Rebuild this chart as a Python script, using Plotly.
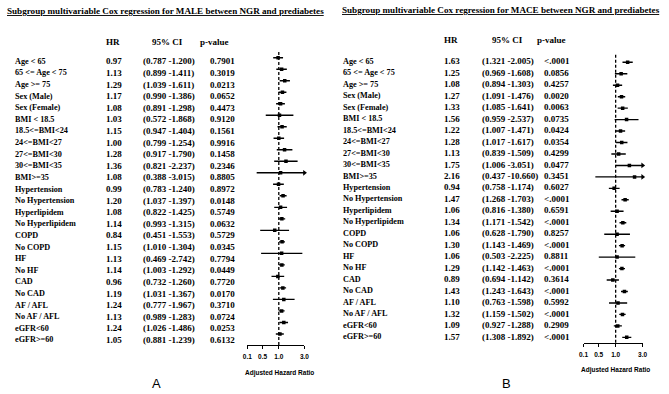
import math
import plotly.graph_objects as go

W, H = 669, 394

# ---------------- data ----------------
SUBGROUPS = ["Age < 65", "65 <= Age < 75", "Age >= 75", "Sex (Male)", "Sex (Female)",
             "BMI < 18.5", "18.5<=BMI<24", "24<=BMI<27", "27<=BMI<30", "30<=BMI<35",
             "BMI>=35", "Hypertension", "No Hypertension", "Hyperlipidem", "No Hyperlipidem",
             "COPD", "No COPD", "HF", "No HF", "CAD", "No CAD", "AF / AFL", "No AF / AFL",
             "eGFR<60", "eGFR>=60"]

male_hr = [0.97, 1.13, 1.29, 1.17, 1.08, 1.03, 1.15, 1.00, 1.28, 1.36, 1.08, 0.99, 1.20,
           1.08, 1.14, 0.84, 1.15, 1.13, 1.14, 0.96, 1.19, 1.24, 1.13, 1.24, 1.05]
male_lo = [0.787, 0.899, 1.039, 0.990, 0.891, 0.572, 0.947, 0.799, 0.917, 0.821, 0.388, 0.783,
           1.037, 0.822, 0.993, 0.451, 1.010, 0.469, 1.003, 0.732, 1.031, 0.777, 0.989, 1.026, 0.881]
male_hi = [1.200, 1.411, 1.611, 1.386, 1.298, 1.868, 1.404, 1.254, 1.790, 2.237, 3.015, 1.240,
           1.397, 1.425, 1.315, 1.553, 1.304, 2.742, 1.292, 1.260, 1.367, 1.967, 1.283, 1.486, 1.239]
male_p = ["0.7901", "0.3019", "0.0213", "0.0652", "0.4473", "0.9120", "0.1561", "0.9916",
          "0.1458", "0.2346", "0.8805", "0.8972", "0.0148", "0.5749", "0.0632", "0.5729",
          "0.0345", "0.7794", "0.0449", "0.7720", "0.0170", "0.3710", "0.0724", "0.0253", "0.6132"]

mace_hr = [1.63, 1.25, 1.08, 1.27, 1.33, 1.56, 1.22, 1.28, 1.13, 1.75, 2.16, 0.94, 1.47,
           1.06, 1.34, 1.06, 1.30, 1.06, 1.29, 0.89, 1.43, 1.10, 1.32, 1.09, 1.57]
mace_lo = [1.321, 0.969, 0.894, 1.091, 1.085, 0.959, 1.007, 1.017, 0.839, 1.006, 0.437, 0.758,
           1.268, 0.816, 1.171, 0.628, 1.143, 0.503, 1.142, 0.694, 1.243, 0.763, 1.159, 0.927, 1.308]
mace_hi = [2.005, 1.608, 1.303, 1.476, 1.641, 2.537, 1.471, 1.617, 1.509, 3.051, 10.660, 1.174,
           1.703, 1.380, 1.542, 1.790, 1.469, 2.225, 1.463, 1.142, 1.643, 1.598, 1.502, 1.288, 1.892]
mace_p = ["<.0001", "0.0856", "0.4257", "0.0020", "0.0063", "0.0735", "0.0424", "0.0354",
          "0.4299", "0.0477", "0.3451", "0.6027", "<.0001", "0.6591", "<.0001", "0.8257",
          "<.0001", "0.8811", "<.0001", "0.3614", "<.0001", "0.5992", "<.0001", "0.2909", "<.0001"]

TICK_LABELS = ["0.1", "0.5", "1.0", "3.0"]
TICK_VALUES_INNER = [0.5, 1.0, 3.0]
REF_VALUE = 1.0

TITLES = ["Subgroup multivariable Cox regression for MALE between NGR and prediabetes",
          "Subgroup multivariable Cox regression for MACE between NGR and prediabetes"]
HEADERS = ["HR", "95% CI", "p-value"]
AXIS_TITLE = "Adjusted Hazard Ratio"
PANEL_LETTERS = ["A", "B"]


def esc(s):
    return s.replace("&", "&amp;").replace("<", "&lt;").replace(">", "&gt;")


def px(x):
    return x / W


def py(y):
    return 1 - y / H


SERIF = "Liberation Serif"
SANS = "Liberation Sans"

panels = [
    dict(hr=male_hr, lo=male_lo, hi=male_hi, p=male_p, title=TITLES[0], letter=PANEL_LETTERS[0],
         xa="x", ya="y", xt="x3", yt="y3",
         fx0=246, fx1=304, xmin=0.26, xmax=3.0,
         fy_top=50, fy_bot=345, row0=57.7, dy=11.51,
         trow0=61.3, tdy=11.61,
         col_label=8, col_hr=100, col_ci=138, col_p=206,
         h_hr=101, h_ci=165, h_p=213, h_row=-1.69,
         title_x=163.3, title_y=10.7,
         axt_x=278.3, axt_y=372.7, let_x=153.3, let_y=383.3),
    dict(hr=mace_hr, lo=mace_lo, hi=mace_hi, p=mace_p, title=TITLES[1], letter=PANEL_LETTERS[1],
         xa="x2", ya="y2", xt="x4", yt="y4",
         fx0=587.3, fx1=647.3, xmin=0.27, xmax=3.0,
         fy_top=53, fy_bot=342.7, row0=62.3, dy=11.46,
         trow0=61.3, tdy=11.47,
         col_label=341.5, col_hr=443.5, col_ci=482, col_p=545.5,
         h_hr=443.5, h_ci=509.7, h_p=554.5, h_row=-1.86,
         title_x=503.5, title_y=10,
         axt_x=619.5, axt_y=370, let_x=509.3, let_y=383.3),
]

fig = go.Figure()
annotations = []
shapes = []
layout_axes = {}

n = len(SUBGROUPS)
rows = list(range(n))

for k, P in enumerate(panels):
    # CI lines
    cx, cy = [], []
    for r in rows:
        cx += [P["lo"][r], P["hi"][r], None]
        cy += [r, r, None]
    fig.add_trace(go.Scatter(x=cx, y=cy, mode="lines", xaxis=P["xa"], yaxis=P["ya"],
                             line=dict(color="black", width=1.4), showlegend=False,
                             hoverinfo="skip"))
    # HR markers
    fig.add_trace(go.Scatter(x=P["hr"], y=rows, mode="markers", xaxis=P["xa"], yaxis=P["ya"],
                             marker=dict(symbol="square", size=3.5, color="black"),
                             showlegend=False))
    # arrows for CIs beyond axis
    ar = [r for r in rows if P["hi"][r] > P["xmax"]]
    fig.add_trace(go.Scatter(x=[P["xmax"]] * len(ar), y=ar, mode="markers",
                             xaxis=P["xa"], yaxis=P["ya"], cliponaxis=False,
                             marker=dict(symbol="triangle-right", size=5, color="black"),
                             showlegend=False))
    # invisible trace for text axes
    fig.add_trace(go.Scatter(x=[None], y=[None], xaxis=P["xt"], yaxis=P["yt"],
                             showlegend=False))

    # reference line
    shapes.append(dict(type="line", xref=P["xa"], yref=P["ya"] + " domain",
                       x0=REF_VALUE, x1=REF_VALUE, y0=0, y1=1,
                       line=dict(color="black", width=1.3, dash="3px,2px")))

    # forest axes
    ybot = n - 1 + (P["fy_bot"] - (P["row0"] + (n - 1) * P["dy"])) / P["dy"]
    ytop = -(P["row0"] - P["fy_top"]) / P["dy"]
    xi = P["xa"][1:]
    yi = P["ya"][1:]
    layout_axes["xaxis" + xi] = dict(
        type="log", domain=[px(P["fx0"]), px(P["fx1"])],
        range=[math.log10(P["xmin"]), math.log10(P["xmax"])],
        anchor=P["ya"], showline=True, linecolor="black", linewidth=1,
        ticks="outside", ticklen=3, tickcolor="black", tickwidth=1,
        tickvals=[P["xmin"]] + TICK_VALUES_INNER, ticktext=TICK_LABELS,
        tickfont=dict(family=SANS, size=6.5, color="black", weight="bold"),
        ticklabelstandoff=2,
        showgrid=False, zeroline=False)
    layout_axes["yaxis" + yi] = dict(
        domain=[py(P["fy_bot"]), py(P["fy_top"])], range=[ybot, ytop],
        anchor=P["xa"], visible=False, showgrid=False, zeroline=False)

    # text axes
    xti = P["xt"][1:]
    yti = P["yt"][1:]
    layout_axes["xaxis" + xti] = dict(domain=[0, 1], range=[0, W], visible=False,
                                      anchor=P["yt"])
    layout_axes["yaxis" + yti] = dict(domain=[0, 1],
                                      range=[(H - P["trow0"]) / P["tdy"], -P["trow0"] / P["tdy"]],
                                      visible=False, anchor=P["xt"])

    tfont = dict(family=SERIF, size=9, color="black", weight="bold")
    lfont = dict(family=SERIF, size=8.2, color="black", weight="bold")
    for r in rows:
        vals = [(P["col_label"], esc(SUBGROUPS[r]), lfont),
                (P["col_hr"], "%.2f" % P["hr"][r], tfont),
                (P["col_ci"], "(%.3f -%.3f)" % (P["lo"][r], P["hi"][r]), tfont),
                (P["col_p"], esc(P["p"][r]), tfont)]
        for x, t, f in vals:
            annotations.append(dict(xref=P["xt"], yref=P["yt"], x=x, y=r, text=t,
                                    showarrow=False, xanchor="left", yanchor="middle",
                                    font=f))
    # headers
    annotations.append(dict(xref=P["xt"], yref=P["yt"], x=P["h_hr"], y=P["h_row"],
                            text=HEADERS[0], showarrow=False, xanchor="left",
                            yanchor="middle", font=tfont))
    annotations.append(dict(xref=P["xt"], yref=P["yt"], x=P["h_ci"], y=P["h_row"],
                            text=HEADERS[1], showarrow=False, xanchor="center",
                            yanchor="middle", font=tfont))
    annotations.append(dict(xref=P["xt"], yref=P["yt"], x=P["h_p"], y=P["h_row"],
                            text=HEADERS[2], showarrow=False, xanchor="center",
                            yanchor="middle", font=tfont))
    # title
    annotations.append(dict(xref="paper", yref="paper", x=px(P["title_x"]), y=py(P["title_y"]),
                            text="<u>" + P["title"] + "</u>", showarrow=False,
                            xanchor="center", yanchor="middle",
                            font=dict(family=SERIF, size=9.1, color="black", weight="bold")))
    # axis title
    annotations.append(dict(xref="paper", yref="paper", x=px(P["axt_x"]), y=py(P["axt_y"]),
                            text=AXIS_TITLE, showarrow=False, xanchor="center",
                            yanchor="middle",
                            font=dict(family=SANS, size=6.5, color="black", weight="bold")))
    # panel letter
    annotations.append(dict(xref="paper", yref="paper", x=px(P["let_x"]), y=py(P["let_y"]),
                            text=P["letter"], showarrow=False, xanchor="center",
                            yanchor="middle",
                            font=dict(family=SANS, size=13, color="black")))

fig.update_layout(
    width=W, height=H, margin=dict(l=0, r=0, t=0, b=0),
    paper_bgcolor="white", plot_bgcolor="rgba(0,0,0,0)",
    showlegend=False, annotations=annotations, shapes=shapes,
    **layout_axes)

fig.write_html("out.html", config={"displayModeBar": False},
               post_script="document.body.style.margin='0';document.body.style.overflow='hidden';")
